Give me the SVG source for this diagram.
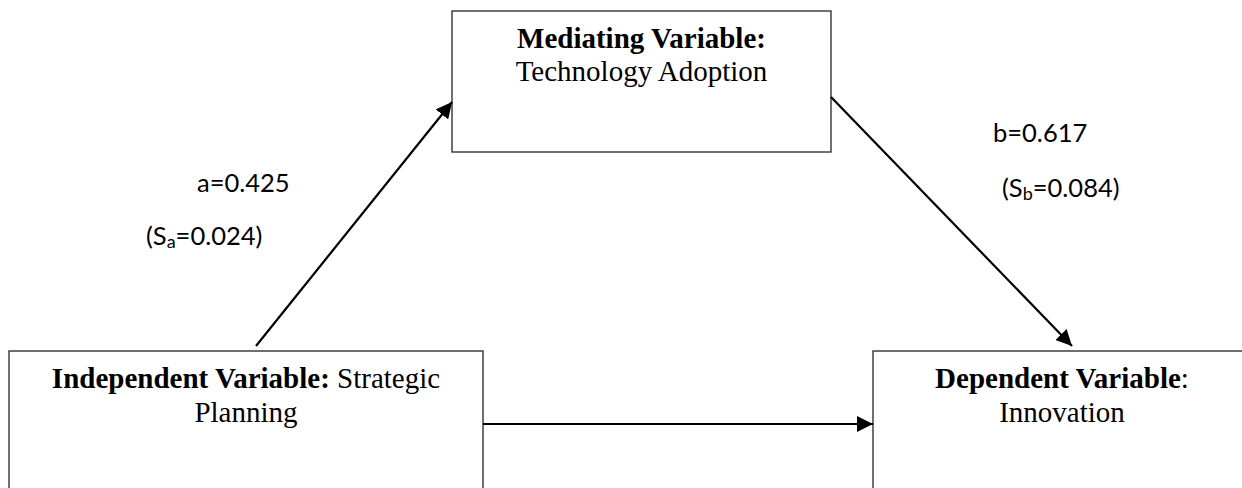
<svg xmlns="http://www.w3.org/2000/svg" width="1242" height="488" viewBox="0 0 1242 488">
  <style>
    .box { fill: #ffffff; stroke: #333333; stroke-width: 1.4; }
    .title { font-family: "Liberation Serif", "Times New Roman", serif; font-size: 29px; fill: #000000; }
    .b { font-weight: bold; }
    .lbl { font-family: Lato, "Liberation Sans", sans-serif; font-size: 25.5px; fill: #000000; }
    .sub { font-size: 18px; }
    .conn { stroke: #000000; stroke-width: 2.2; fill: none; marker-end: url(#arrow); }
  </style>
  <defs>
    <marker id="arrow" markerUnits="userSpaceOnUse" markerWidth="16" markerHeight="16" refX="16" refY="8" orient="auto">
      <path d="M0,0 L16,8 L0,16 z" fill="#000000"/>
    </marker>
  </defs>
  <rect width="1242" height="488" fill="#ffffff"/>

  <g id="mediator">
    <rect class="box" x="452" y="11" width="379" height="141"/>
    <text class="title" x="641.5" y="48" text-anchor="middle"><tspan class="b">Mediating Variable:</tspan></text>
    <text class="title" x="641.5" y="81" text-anchor="middle">Technology Adoption</text>
  </g>

  <g id="independent">
    <rect class="box" x="9" y="351" width="474" height="150"/>
    <text class="title" x="246" y="388" text-anchor="middle"><tspan class="b">Independent Variable:</tspan> Strategic</text>
    <text class="title" x="246" y="422" text-anchor="middle">Planning</text>
  </g>

  <g id="dependent">
    <rect class="box" x="873" y="351" width="378" height="150"/>
    <text class="title" x="1062" y="388" text-anchor="middle"><tspan class="b">Dependent Variable</tspan>:</text>
    <text class="title" x="1062" y="422" text-anchor="middle">Innovation</text>
  </g>

  <g id="connectors">
    <line class="conn" x1="256" y1="346" x2="452" y2="102"/>
    <line class="conn" x1="831" y1="97" x2="1072" y2="346"/>
    <line class="conn" x1="483" y1="424" x2="873" y2="424"/>
  </g>

  <g id="path-labels">
    <text class="lbl" x="197" y="192">a=0.425</text>
    <text class="lbl" x="146" y="245">(S<tspan class="sub" dy="3">a</tspan><tspan dy="-3">=0.024)</tspan></text>
    <text class="lbl" x="993" y="142">b=0.617</text>
    <text class="lbl" x="1002" y="197">(S<tspan class="sub" dy="3">b</tspan><tspan dy="-3">=0.084)</tspan></text>
  </g>
</svg>
